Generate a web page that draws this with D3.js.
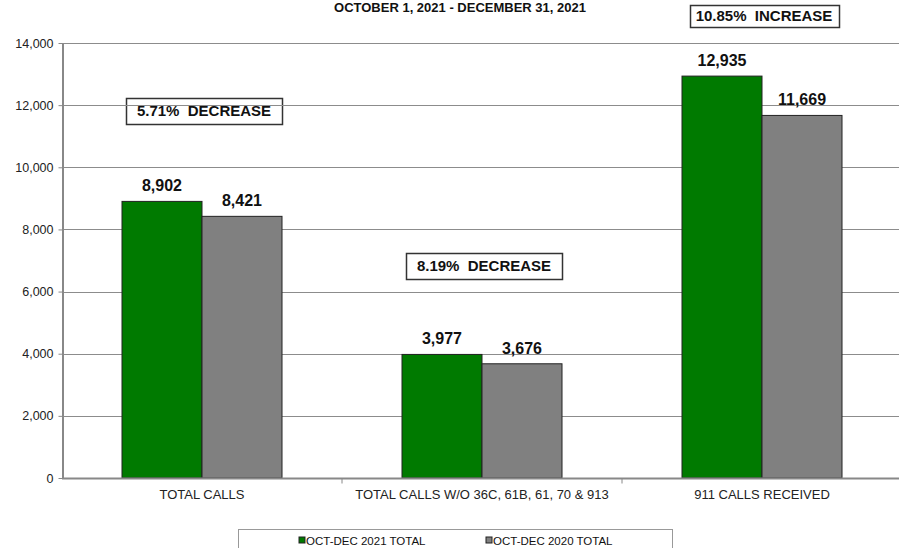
<!DOCTYPE html>
<html>
<head>
<meta charset="utf-8">
<script src="https://cdn.jsdelivr.net/npm/d3@7"></script>
<style>
  body { margin: 0; background: #fff; }
  svg { display: block; font-family: "Liberation Sans", Arial, sans-serif; }
</style>
</head>
<body>
<svg id="chart" width="899" height="548"></svg>
<script>
// data
var categories = ["TOTAL CALLS", "TOTAL CALLS W/O 36C, 61B, 61, 70 & 913", "911 CALLS RECEIVED"];
var seriesNames = ["OCT-DEC 2021 TOTAL", "OCT-DEC 2020 TOTAL"];
var values2021 = [8902, 3977, 12935];
var values2020 = [8421, 3676, 11669];
var yTicks = [0, 2000, 4000, 6000, 8000, 10000, 12000, 14000];
var changeLabels = ["5.71%  DECREASE", "8.19%  DECREASE", "10.85%  INCREASE"];
var changeAt = [11810, 6820, 14870];   // value level where each box is centred
var colors = ["#007a00", "#808080"];

function drawChart() {
    var svg = d3.select("#chart");
    var plotL = 62, plotR = 902, plotT = 43, plotB = 478;

    var x = d3.scaleBand().domain(categories).range([plotL, plotR]).paddingInner(0).paddingOuter(0);
    var xs = d3.scaleBand().domain([0, 1]).range([0, x.bandwidth()]).paddingInner(0).paddingOuter(0.75);
    var y = d3.scaleLinear().domain([0, 14000]).range([plotB, plotT]);

    // title (cut at top like the original)
    svg.append("text")
        .attr("x", 460).attr("y", 12)
        .attr("text-anchor", "middle")
        .style("font-size", "13px").style("font-weight", "bold").style("fill", "#111")
        .text("OCTOBER 1, 2021 - DECEMBER 31, 2021");

    // gridlines
    svg.append("g").selectAll("line")
        .data(yTicks.filter(function (d) { return d > 0; }))
        .enter().append("line")
        .attr("x1", plotL).attr("x2", plotR)
        .attr("y1", function (d) { return Math.round(y(d)) + 0.5; })
        .attr("y2", function (d) { return Math.round(y(d)) + 0.5; })
        .style("stroke", "#8c8c8c").style("stroke-width", 1);

    // y axis
    var yAxis = svg.append("g")
        .attr("transform", "translate(" + (plotL + 0.5) + ",0)")
        .call(d3.axisLeft(y).tickValues(yTicks).tickSize(4).tickSizeOuter(0).tickFormat(d3.format(",")));
    yAxis.select(".domain").style("stroke", "#888").style("stroke-width", 2);
    yAxis.selectAll(".tick line").style("stroke", "#888");
    yAxis.selectAll(".tick text")
        .style("font-family", "Liberation Sans, Arial, sans-serif")
        .style("font-size", "12.5px").style("fill", "#222").attr("x", -9);

    // bars
    var groups = svg.append("g").selectAll("g")
        .data(categories)
        .enter().append("g")
        .attr("transform", function (d) { return "translate(" + x(d) + ",0)"; });

    groups.each(function (cat, i) {
        var g = d3.select(this);
        var vals = [values2021[i], values2020[i]];
        vals.forEach(function (v, j) {
            g.append("rect")
                .attr("x", xs(j)).attr("width", xs.bandwidth())
                .attr("y", y(v)).attr("height", y(0) - y(v))
                .style("fill", colors[j]).style("stroke", "#222").style("stroke-width", 1);
            g.append("text")
                .attr("x", xs(j) + xs.bandwidth() / 2)
                .attr("y", y(v) - 10)
                .attr("text-anchor", "middle")
                .style("font-size", "16px").style("font-weight", "bold").style("fill", "#111")
                .text(d3.format(",")(v));
        });
    });

    // x axis
    var xAxis = svg.append("g")
        .attr("transform", "translate(0," + (plotB + 0.5) + ")");
    xAxis.append("line").attr("x1", plotL).attr("x2", plotR).style("stroke", "#888").style("stroke-width", 2);
    xAxis.selectAll("line.tk")
        .data(categories.slice(1))
        .enter().append("line").attr("class", "tk")
        .attr("x1", function (d) { return x(d); }).attr("x2", function (d) { return x(d); })
        .attr("y1", 0).attr("y2", 5).style("stroke", "#888");
    xAxis.selectAll("text")
        .data(categories)
        .enter().append("text")
        .attr("x", function (d) { return x(d) + x.bandwidth() / 2; })
        .attr("y", 20)
        .attr("text-anchor", "middle")
        .style("font-size", "13px").style("fill", "#222")
        .text(function (d) { return d; });

    // percent-change boxes
    categories.forEach(function (cat, i) {
        var cx = x(cat) + x.bandwidth() / 2 + 2;
        var cy = y(changeAt[i]);
        var t = svg.append("text")
            .attr("x", cx).attr("y", cy + 5)
            .attr("text-anchor", "middle")
            .style("font-size", "15px").style("font-weight", "bold").style("fill", "#111")
            .style("white-space", "pre")
            .text(changeLabels[i]);
        var bb = t.node().getBBox();
        var padX = i == 2 ? 6 : 11, h = i == 2 ? 22 : 26;
        svg.insert("rect", "text")
            .attr("x", Math.round(bb.x - padX) + 0.5).attr("y", Math.round(cy - h / 2) + 0.5)
            .attr("width", Math.round(bb.width + 2 * padX)).attr("height", h)
            .style("fill", "#fff").style("stroke", "#333").style("stroke-width", 1.5);
    });

    // legend
    svg.append("rect")
        .attr("x", 238.5).attr("y", 529.5).attr("width", 434).attr("height", 30)
        .style("fill", "#fff").style("stroke", "#999");
    var legendX = [299, 486];
    seriesNames.forEach(function (name, j) {
        svg.append("rect")
            .attr("x", legendX[j]).attr("y", 537).attr("width", 6).attr("height", 6)
            .style("fill", colors[j]).style("stroke", "#222");
        svg.append("text")
            .attr("x", legendX[j] + 7).attr("y", 544.5)
            .style("font-size", "11.5px").style("fill", "#111")
            .text(name);
    });
}

drawChart();
</script>
</body>
</html>
